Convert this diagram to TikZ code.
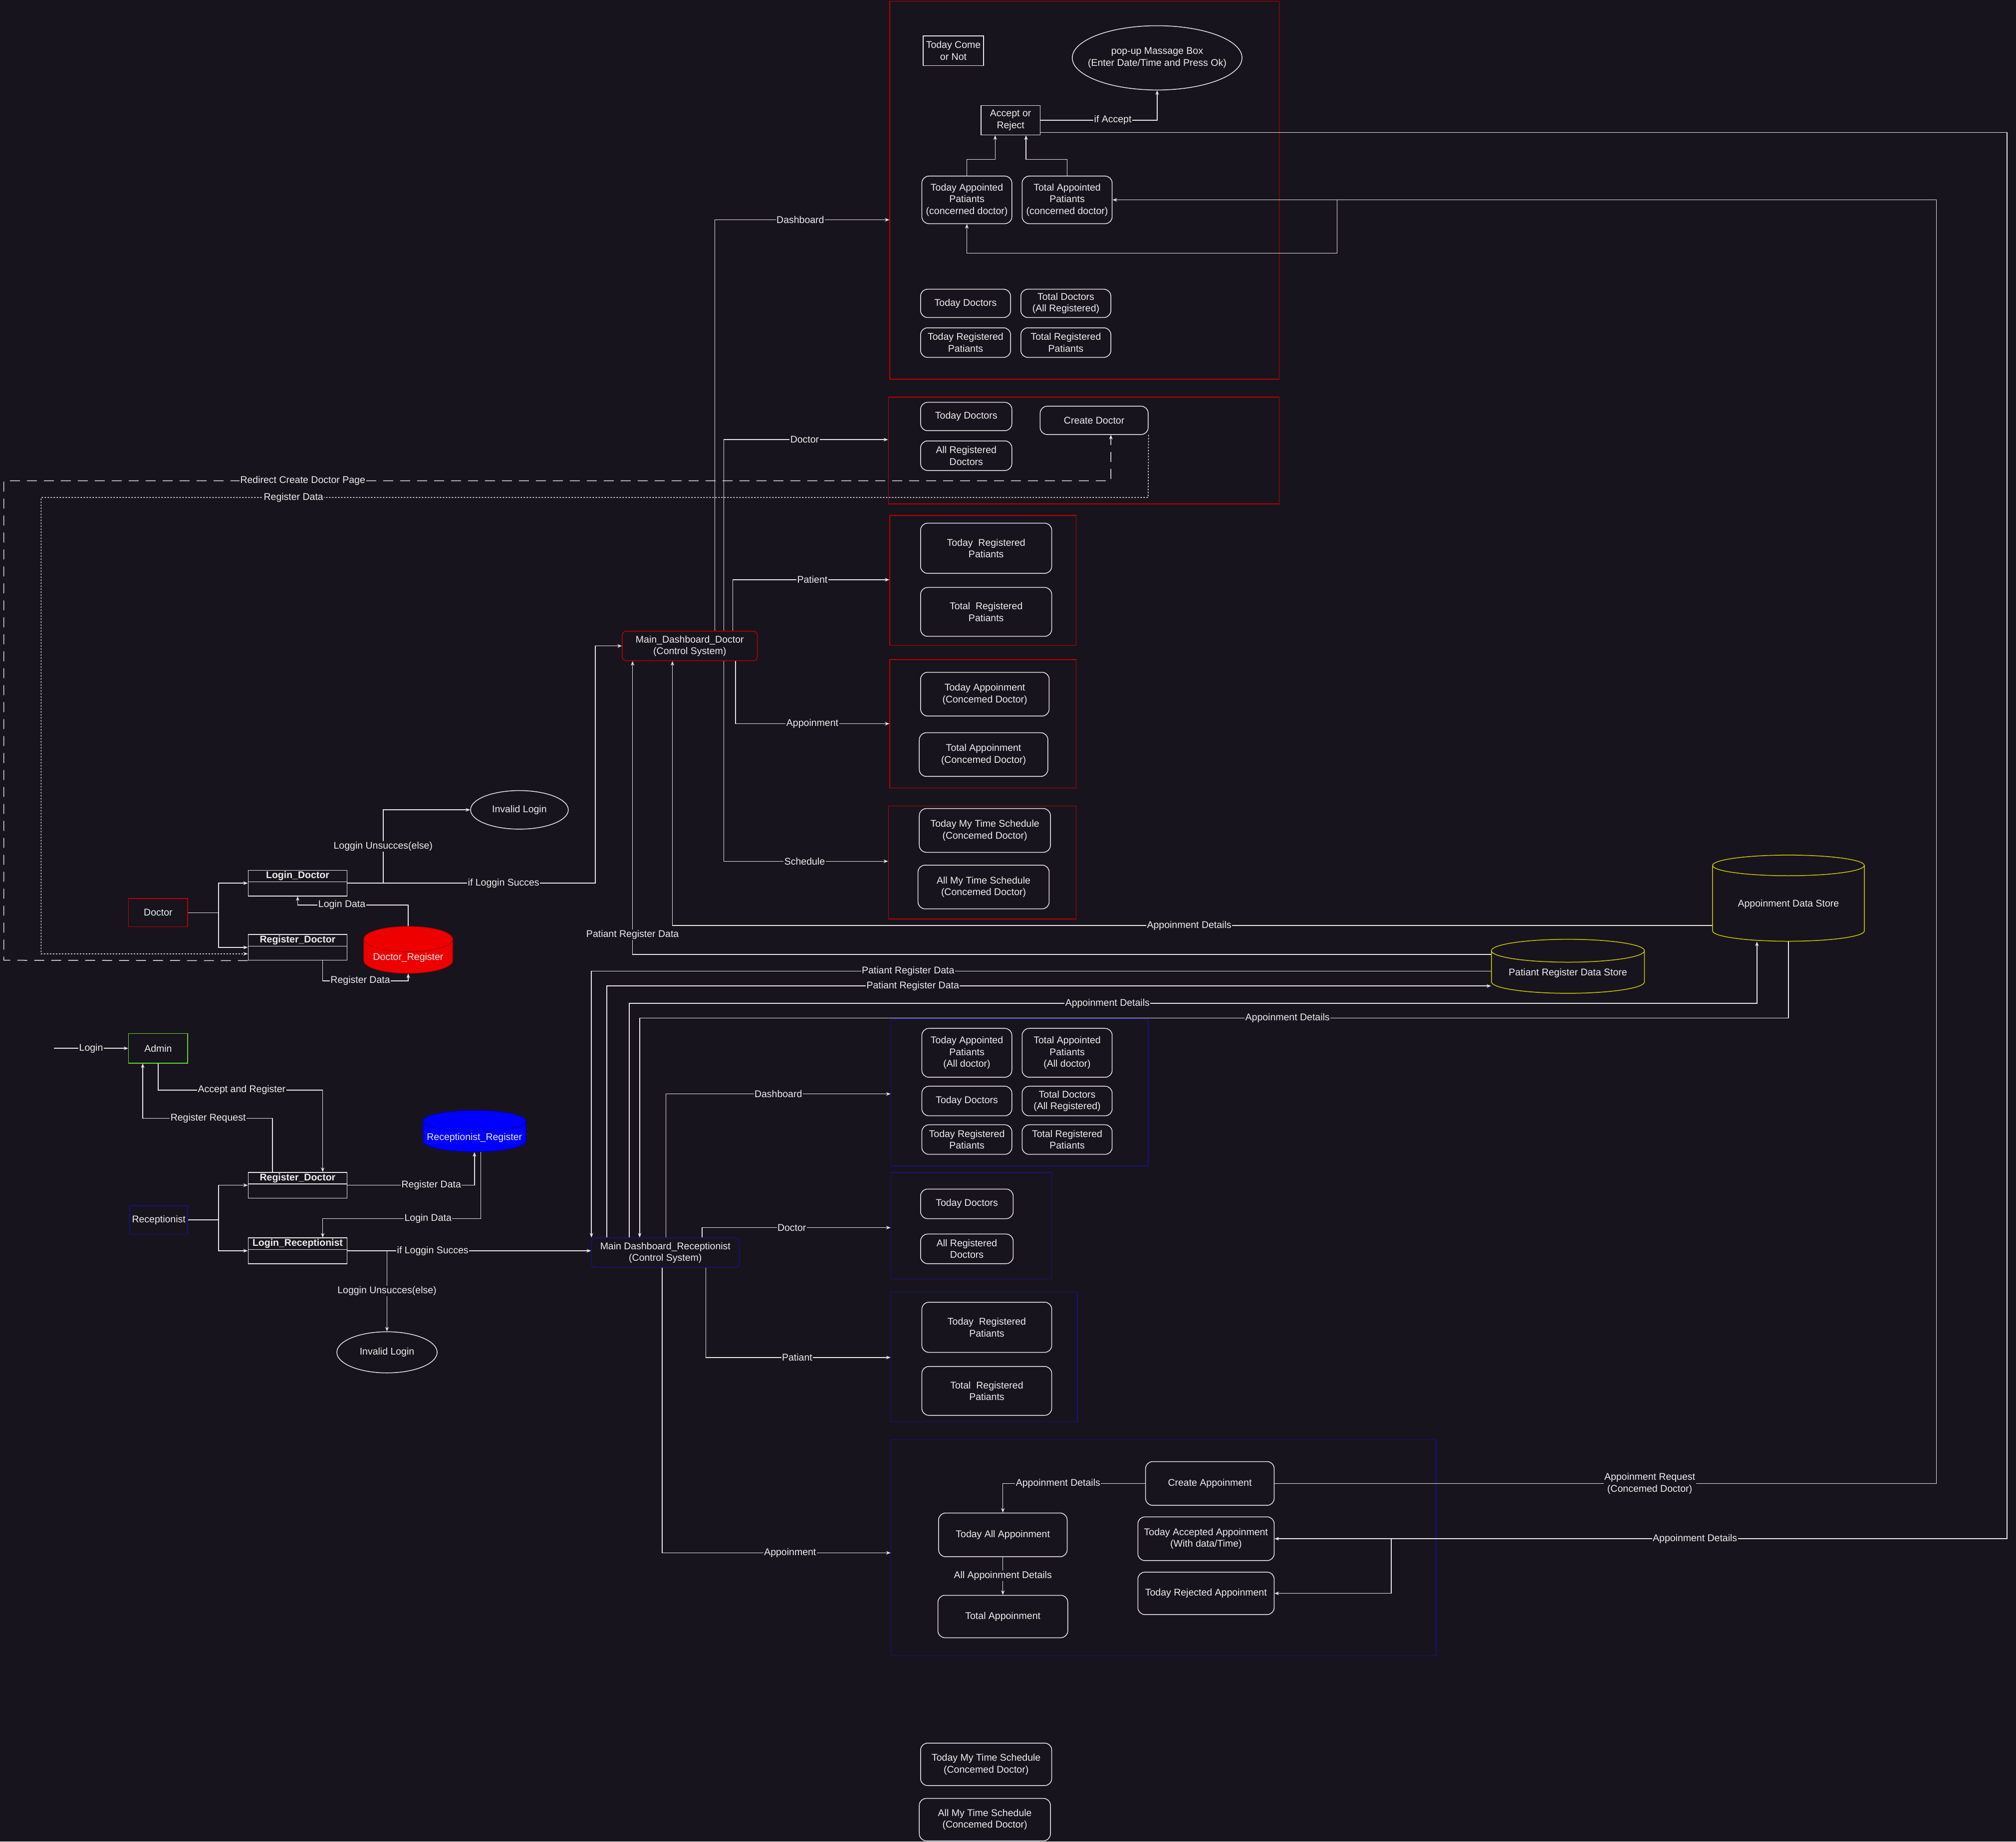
\documentclass[tikz,border=0pt]{standalone}
\usepackage{fontspec}
\setmainfont{Liberation Sans}
\usetikzlibrary{arrows.meta,shapes.geometric}

\definecolor{bg}{HTML}{18141D}
\definecolor{wirec}{HTML}{E8E8E8}
\definecolor{txt}{HTML}{EEEEEE}
\definecolor{docred}{HTML}{BE0000}
\definecolor{recblue}{HTML}{141480}
\definecolor{admgreen}{HTML}{6BD33A}
\definecolor{storeyel}{HTML}{CCCC00}

\def\pxu{2.5765pt}

\tikzset{
  every node/.style={font=\fontsize{19.5}{23.5}\selectfont, text=txt},
  sz/.style 2 args={minimum width=#1*\pxu, minimum height=#2*\pxu},
  arr/.style={draw=wirec, line width=1.5pt, -{Stealth[length=9pt,width=7pt]}},
  lbl/.style={fill=bg, inner sep=1.5pt},
  card/.style={draw=wirec, line width=1.5pt, rounded corners=14pt, align=center, inner sep=2pt},
  sqbox/.style={draw=wirec, line width=1.5pt, align=center, inner sep=2pt},
  oval/.style={ellipse, draw=wirec, line width=1.5pt, align=center, inner sep=1pt},
  panel/.style={draw=#1, line width=1.5pt},
  lane/.style={draw=wirec, line width=1.5pt, sz={77}{20},
    path picture={\draw[wirec, line width=1.5pt]
      ([yshift=-9*\pxu]path picture bounding box.north west) --
      ([yshift=-9*\pxu]path picture bounding box.north east);}},
  lanetitle/.style={anchor=north, inner sep=3pt, font=\fontsize{19.5}{23.5}\selectfont\bfseries},
  store/.style={cylinder, shape border rotate=90, line width=1.5pt, align=center, inner sep=2pt},
}

\begin{document}
\begin{tikzpicture}[x=2.5765pt, y=-2.5765pt]
  \fill[bg] (0,0) rectangle (1568,1432.6);
  \useasboundingbox (0,0) rectangle (1568,1432.6);

  % doctor dashboard
  \node[panel=docred, sz={303}{294}] (dframe) at (843.5,148) {};
  \node[sqbox, sz={47}{23}] (comeornot) at (741.5,39.5) {Today Come\\or Not};
  \node[oval, sz={132}{50}, inner xsep=-50pt] (popup) at (900,45) {pop-up Massage Box\\(Enter Date/Time and Press Ok)};
  \node[sqbox, sz={46}{23}] (accept) at (786,93.5) {Accept or\\Reject};
  \node[card, sz={70}{37}] (dtap) at (752,155.5) {Today Appointed\\Patiants\\(concerned doctor)};
  \node[card, sz={70}{37}] (dtotap) at (830,155.5) {Total Appointed\\Patiants\\(concerned doctor)};
  \node[card, sz={70}{22}] (dtd) at (751,236) {Today Doctors};
  \node[card, sz={70}{22}] (dtotd) at (829,236) {Total Doctors\\(All Registered)};
  \node[card, sz={70}{23}] (dtrp) at (751,266.5) {Today Registered\\Patiants};
  \node[card, sz={70}{23}] (dtotrp) at (829,266.5) {Total Registered\\Patiants};

  % doctor panels
  \node[panel=docred, sz={304}{83}] (docframe) at (843,350.5) {};
  \node[card, sz={71}{22}] (ddtd) at (751.5,324) {Today Doctors};
  \node[card, sz={71}{23}] (ddard) at (751.5,354.5) {All Registered\\Doctors};
  \node[card, sz={84}{22}] (createdoc) at (851,327) {Create Doctor};

  \node[panel=docred, sz={145}{101}] (patframe) at (764.5,451.5) {};
  \node[card, sz={102}{39}] (ptrp) at (767,426.5) {Today\ \ Registered\\Patiants};
  \node[card, sz={102}{38}] (ptotrp) at (767,476) {Total\ \ Registered\\Patiants};

  \node[panel=docred, sz={145}{100}] (appframe) at (764.5,563) {};
  \node[card, sz={100}{34}] (atoday) at (766,540) {Today Appoinment\\(Concemed Doctor)};
  \node[card, sz={100}{34}] (atotal) at (765,587) {Total Appoinment\\(Concemed Doctor)};

  \node[panel=docred, sz={146}{88}] (schframe) at (764,671) {};
  \node[card, sz={102}{34}] (stoday) at (766,646) {Today My Time Schedule\\(Concemed Doctor)};
  \node[card, sz={102}{34}] (sall) at (765,690) {All My Time Schedule\\(Concemed Doctor)};

  \node[card, draw=docred, rounded corners=8pt, sz={105}{23}] (mdd) at (536.5,502.5) {Main\_Dashboard\_Doctor\\(Control System)};

  % doctor login
  \node[sqbox, draw=docred, sz={46}{22}] (doctor) at (123,710) {Doctor};
  \node[lane, label={[lanetitle]north:Login\_Doctor}] (logind) at (231.5,687) {};
  \node[lane, label={[lanetitle]north:Register\_Doctor}] (regd) at (231.5,737) {};
  \node[oval, sz={76}{30}] (invd) at (404,630) {Invalid Login};
  \node[store, draw=docred, fill={rgb,255:red,238;green,0;blue,0}, sz={69}{25}, aspect=0.35] (docreg) at (317.5,745) {Doctor\_Register};

  % data stores
  \node[store, draw=storeyel, fill=bg, sz={118}{67}, aspect=0.2] (ads) at (1391,703.5) {Appoinment Data Store};
  \node[store, draw=storeyel, fill=bg, sz={119}{42}, aspect=0.19] (prds) at (1219.5,757) {Patiant Register Data Store};

  % receptionist login
  \coordinate (loginin) at (42,815.5);
  \node[sqbox, draw=admgreen, sz={46}{23}] (admin) at (123,815.5) {Admin};
  \node[lane, label={[lanetitle]north:Register\_Doctor}] (regr) at (231.5,922) {};
  \node[lane, label={[lanetitle]north:Login\_Receptionist}] (loginr) at (231.5,973) {};
  \node[sqbox, draw=recblue, sz={45}{22}] (recep) at (123.5,949) {Receptionist};
  \node[store, draw={rgb,255:red,0;green,0;blue,170}, fill={rgb,255:red,0;green,0;blue,255}, sz={80}{25}, aspect=0.22] (recreg) at (369,885) {Receptionist\_Register};
  \node[oval, sz={78}{32}] (invr) at (301,1052) {Invalid Login};
  \node[card, draw=recblue, rounded corners=8pt, sz={115}{23}] (mdr) at (517.5,974.5) {Main Dashboard\_Receptionist\\(Control System)};

  % receptionist panels
  \node[panel=recblue, sz={200}{114}] (rdframe) at (793,850) {};
  \node[card, sz={70}{38}] (rtap) at (752,819) {Today Appointed\\Patiants\\(All doctor)};
  \node[card, sz={70}{38}] (rtotap) at (830,819) {Total Appointed\\Patiants\\(All doctor)};
  \node[card, sz={70}{23}] (rtd) at (752,856.5) {Today Doctors};
  \node[card, sz={70}{23}] (rtotd) at (830,856.5) {Total Doctors\\(All Registered)};
  \node[card, sz={70}{23}] (rtrp) at (752,886.5) {Today Registered\\Patiants};
  \node[card, sz={70}{23}] (rtotrp) at (830,886.5) {Total Registered\\Patiants};

  \node[panel=recblue, sz={125}{83}] (rdocframe) at (755.5,953.5) {};
  \node[card, sz={72}{23}] (rdtd) at (752,936.5) {Today Doctors};
  \node[card, sz={72}{23}] (rdard) at (752,971.5) {All Registered\\Doctors};

  \node[panel=recblue, sz={145}{101}] (rpatframe) at (765.5,1055.5) {};
  \node[card, sz={101}{39}] (rptrp) at (767.5,1032.5) {Today\ \ Registered\\Patiants};
  \node[card, sz={101}{38}] (rptotrp) at (767.5,1082) {Total\ \ Registered\\Patiants};

  \node[panel=recblue, sz={424}{168}] (rappframe) at (905,1204) {};
  \node[card, sz={100}{34}] (createapp) at (941,1154) {Create Appoinment};
  \node[card, sz={100}{34}] (todayall) at (780,1194) {Today All Appoinment};
  \node[card, sz={101}{33}] (totalapp) at (780,1257.5) {Total Appoinment};
  \node[card, sz={106}{34}] (accepted) at (938,1197) {Today Accepted Appoinment\\(With data/Time)};
  \node[card, sz={106}{33}] (rejected) at (938,1239.5) {Today Rejected Appoinment};

  \node[card, sz={102}{33}] (btoday) at (767,1372.5) {Today My Time Schedule\\(Concemed Doctor)};
  \node[card, sz={102}{33}] (ball) at (766,1415.5) {All My Time Schedule\\(Concemed Doctor)};

  % connectors, doctor dashboard
  \draw[arr] (dtap.north) |- (774,124) -- (accept.south -| 774,0);
  \draw[arr] (dtotap.north) |- (798,124) -- (accept.south -| 798,0);
  \draw[arr] (accept.east) -| node[lbl,pos=0.31]{if Accept} (popup.south);
  \draw[arr] (accept.east |- 0,103) -- (1561,103) |- node[lbl,pos=0.713]{Appoinment Details} (accepted.east);
  \draw[arr] (accepted.east -| 1082,0) |- (rejected.east);
  \draw[arr] (createapp.east) -- node[lbl,pos=0.567,align=center]{Appoinment Request\\(Concemed Doctor)} (createapp.east -| 1506,0) |- (dtotap.east);
  \draw[arr] (dtotap.east -| 1040,0) -- (1040,197) -| (dtap.south);

  \draw[arr] (mdd.north -| 556,0) |- node[lbl,pos=0.745]{Dashboard} (dframe.west |- 0,171);
  \draw[arr] (mdd.north -| 563,0) |- node[lbl,pos=0.746]{Doctor} (docframe.west |- 0,342);
  \draw[arr] (mdd.north -| 570,0) |- node[lbl,pos=0.754]{Patient} (patframe.west |- 0,451);
  \draw[arr] (mdd.south -| 572,0) |- node[lbl,pos=0.75]{Appoinment} (appframe.west |- 0,563);
  \draw[arr] (mdd.south -| 563,0) |- node[lbl,pos=0.746]{Schedule} (schframe.west |- 0,670);

  % doctor login
  \draw[arr] (doctor.east) -- (170,710) |- (logind.west);
  \draw[arr] (doctor.east) -- (170,710) |- (regd.west);
  \draw[arr] (logind.east) -- (298,687) |- node[lbl,pos=0.25]{Loggin Unsucces(else)} (invd.west);
  \draw[arr] (logind.east) -- node[lbl,pos=0.63]{if Loggin Succes} (463,687) |- (mdd.west);
  \draw[arr] (docreg.north) |- node[lbl,pos=0.8]{Login Data} (231.5,704) -- (logind.south);
  \draw[arr] (regd.south -| 251,0) |- node[lbl,pos=0.72]{Register Data} (317.5,763) -- (docreg.south);
  \draw[arr, dash pattern=on 20pt off 14pt] (regd.south west) -- (3,747) -- (3,374)
    -- node[lbl,pos=0.27]{Redirect Create Doctor Page} (864,374) -- (createdoc.south -| 864,0);
  \draw[arr, dash pattern=on 3pt off 3pt] (createdoc.south east) -- (893,387)
    -- node[lbl,pos=0.772]{Register Data} (32,387) -- (32,742) -- (regd.west |- 0,742);

  % data stores
  \draw[arr] (ads.west |- 0,720) -- node[lbl,pos=0.503]{Appoinment Details} (523,720) -- (mdd.south -| 523,0);
  \draw[arr] (prds.west |- 0,742.5) -| node[lbl,pos=0.534]{Patiant Register Data} (mdd.south -| 492,0);
  \draw[arr] (prds.west |- 0,755.5) -| node[lbl,pos=0.324]{Patiant Register Data} (mdr.north -| 460,0);
  \draw[arr] (mdr.north -| 472,0) |- node[lbl,pos=0.673]{Patiant Register Data} (prds.west |- 0,767);
  \draw[arr] (mdr.north -| 489.5,0) |- node[lbl,pos=0.712]{Appoinment Details} (1366.5,780.5) -- (ads.south -| 1366.5,0);
  \draw[arr] (ads.south) |- node[lbl,pos=0.718]{Appoinment Details} (497.5,792) -- (mdr.north -| 497.5,0);

  % receptionist login
  \draw[arr] (loginin) -- node[lbl]{Login} (admin.west);
  \draw[arr] (admin.south) |- node[lbl,pos=0.754]{Accept and Register} (251,848) -- (regr.north -| 251,0);
  \draw[arr] (regr.north -| 212,0) |- node[lbl,pos=0.748]{Register Request} (111,870) -- (admin.south -| 111,0);
  \draw[arr] (recep.east) -- (170,949) |- (regr.west);
  \draw[arr] (recep.east) -- (170,949) |- (loginr.west);
  \draw[arr] (regr.east) -| node[lbl,pos=0.33]{Register Data} (recreg.south);
  \draw[arr] (recreg.south -| 374,0) |- node[lbl,pos=0.667]{Login Data} (251,948) -- (loginr.north -| 251,0);
  \draw[arr] (loginr.east) -- node[lbl,pos=0.35]{if Loggin Succes} (mdr.west |- loginr.east);
  \draw[arr] (invr.north |- loginr.east) -- node[lbl]{Loggin Unsucces(else)} (invr.north);

  % receptionist dashboard
  \draw[arr] (mdr.north -| 518,0) |- node[lbl,pos=0.75]{Dashboard} (rdframe.west |- 0,851);
  \draw[arr] (mdr.north -| 546,0) |- node[lbl,pos=0.738]{Doctor} (rdocframe.west |- 0,955);
  \draw[arr] (mdr.south -| 549,0) |- node[lbl,pos=0.747]{Patiant} (rpatframe.west |- 0,1056);
  \draw[arr] (mdr.south -| 515,0) |- node[lbl,pos=0.78]{Appoinment} (rappframe.west |- 0,1208);
  \draw[arr] (createapp.west) -| node[lbl,pos=0.306]{Appoinment Details} (todayall.north);
  \draw[arr] (todayall.south) -- node[lbl]{All Appoinment Details} (totalapp.north);
\end{tikzpicture}
\end{document}
